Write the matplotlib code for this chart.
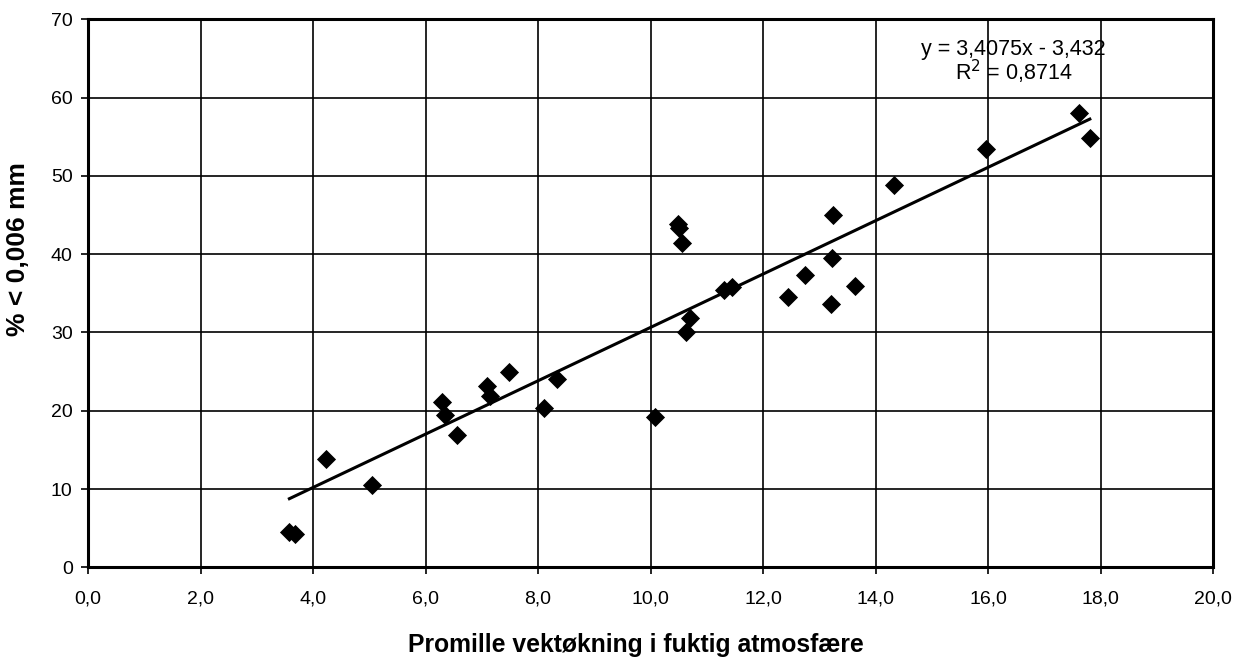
import matplotlib
matplotlib.use("Agg")
import matplotlib.pyplot as plt
import numpy as np

plt.rcParams['font.family'] = ['Liberation Sans', 'DejaVu Sans']

# Data
x_vals = [3.58, 3.68, 4.23, 5.05, 6.29, 6.34, 6.56, 7.09, 7.14, 7.48,
          8.11, 8.33, 10.08, 10.63, 10.49, 10.50, 10.56, 11.30, 11.44, 10.70,
          12.45, 12.74, 13.24, 13.22, 13.20, 13.64, 14.33, 15.96, 17.61, 17.81]
y_vals = [4.5, 4.2, 13.8, 10.55, 21.15, 19.45, 16.85, 23.2, 21.9, 25.0,
          20.4, 24.0, 19.2, 30.0, 43.9, 43.3, 41.4, 35.4, 35.8, 31.8,
          34.56, 37.3, 45.0, 39.46, 33.6, 35.9, 48.8, 53.4, 57.98, 54.8]

slope = 3.4075
intercept = -3.432
r2_text = "0,8714"

x_ticks = [0, 2, 4, 6, 8, 10, 12, 14, 16, 18, 20]
x_ticklabels = ["0,0", "2,0", "4,0", "6,0", "8,0", "10,0", "12,0", "14,0", "16,0", "18,0", "20,0"]
y_ticks = [0, 10, 20, 30, 40, 50, 60, 70]

fig = plt.figure(figsize=(12.45, 6.57), dpi=100)
ax = fig.add_axes([0.0707, 0.1365, 0.9036, 0.8341])

ax.set_xlim(0, 20)
ax.set_ylim(0, 70)
ax.set_xticks(x_ticks)
ax.set_xticklabels(x_ticklabels)
ax.set_yticks(y_ticks)

ax.grid(True, color='black', linewidth=1.2)
ax.set_axisbelow(True)
for s in ax.spines.values():
    s.set_linewidth(2.2)
    s.set_color('black')

ax.tick_params(axis='both', direction='out', length=5, width=1.2, labelsize=14, colors='black')
ax.tick_params(axis='x', pad=12)
ax.tick_params(axis='y', pad=6)

# trendline
xs = np.array([min(x_vals), max(x_vals)])
ax.plot(xs, slope * xs + intercept, color='black', linewidth=2.2, zorder=3)

ax.scatter(x_vals, y_vals, marker='D', s=95, color='black', zorder=4, linewidths=0)

ax.text(0.8225, 0.9345, "y = 3,4075x - 3,432", transform=ax.transAxes,
        ha='center', va='baseline', fontsize=15.5)
ax.text(0.8225, 0.889, r"R$^2$ = " + r2_text, transform=ax.transAxes,
        ha='center', va='baseline', fontsize=15.5)

ax.set_xlabel("Promille vektøkning i fuktig atmosfære", fontsize=17.8, fontweight='bold', labelpad=18)
ax.xaxis.label.set_x(0.487)
ax.set_ylabel("% < 0,006 mm", fontsize=19, fontweight='bold')
ax.yaxis.set_label_coords(-0.0515, 0.581)

fig.savefig("out.png", dpi=100)
